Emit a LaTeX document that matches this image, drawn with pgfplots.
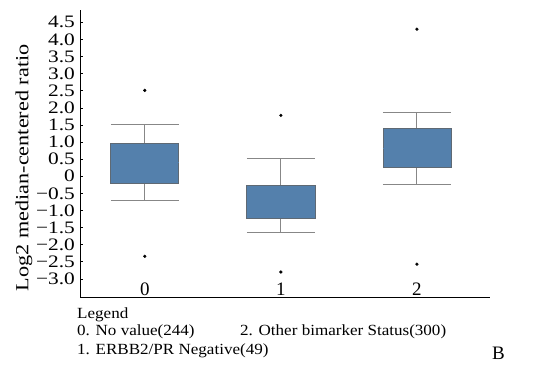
\documentclass[border=0pt]{standalone}
\usepackage{pgfplots}
\pgfplotsset{compat=1.18}
\usepgfplotslibrary{statistics}
\usepackage{fontspec}
\setmainfont{Liberation Serif}
\newfontfamily\tickfont[FakeStretch=1.22]{Liberation Serif}
\newfontfamily\labfont[FakeStretch=1.2]{Liberation Serif}
\newfontfamily\legfont[FakeStretch=1.1]{Liberation Serif}
\definecolor{boxfill}{RGB}{84,128,172}
\definecolor{boxedge}{RGB}{95,105,115}
\definecolor{whisk}{RGB}{135,135,135}
\begin{document}
\begin{tikzpicture}
\useasboundingbox (0pt,0pt) rectangle (538pt,378pt);
\begin{axis}[
  at={(80pt,81pt)}, anchor=south west,
  scale only axis, width=410pt, height=287pt,
  xmin=-0.476, xmax=2.537, ymin=-3.53, ymax=4.86,
  axis x line=bottom, axis y line=left,
  axis line style={-, black, line width=0.8pt},
  xtick={0,1,2}, xticklabels={0,1,2},
  x tick style={draw=none},
  xticklabel style={anchor=south, inner sep=0pt, yshift=1.5pt, font=\fontsize{19}{19}\selectfont},
  ytick={-3,-2.5,...,4.5},
  yticklabels={−3.0,−2.5,−2.0,−1.5,−1.0,−0.5,0,0.5,1.0,1.5,2.0,2.5,3.0,3.5,4.0,4.5},
  yticklabel style={anchor=east, inner sep=0pt, xshift=-5pt, font=\tickfont\fontsize{17.5}{17.5}\selectfont},
  tick align=inside, major tick length=3pt,
  y tick style={black, line width=0.6pt},
  ylabel={Log2 median-centered ratio},
  every axis y label/.style={at={(axis description cs:-0.137,0.45)}, anchor=center, rotate=90, font=\labfont\fontsize{18.5}{18.5}\selectfont},
  boxplot/draw direction=y,
  boxplot/box extend=0.5,
  boxplot/whisker extend=0.5,
  boxplot/every box/.style={draw=boxedge, fill=boxfill, line width=0.7pt},
  boxplot/every whisker/.style={draw=whisk, line width=0.9pt},
  boxplot/every median/.style={draw=boxfill, line width=0.5pt},
  clip=false,
]
\addplot+[black, mark=*, mark size=1.4pt, mark options={fill=black, draw=black},
  boxplot prepared={draw position=0, lower whisker=-0.72, lower quartile=-0.20,
    median=0.40, upper quartile=0.97, upper whisker=1.52}]
  table[row sep=\\, y index=0] {2.51\\ -2.34\\};
\addplot+[black, mark=*, mark size=1.4pt, mark options={fill=black, draw=black},
  boxplot prepared={draw position=1, lower whisker=-1.63, lower quartile=-1.23,
    median=-0.75, upper quartile=-0.28, upper whisker=0.52}]
  table[row sep=\\, y index=0] {1.78\\ -2.80\\};
\addplot+[black, mark=*, mark size=1.4pt, mark options={fill=black, draw=black},
  boxplot prepared={draw position=2, lower whisker=-0.25, lower quartile=0.25,
    median=0.82, upper quartile=1.40, upper whisker=1.86}]
  table[row sep=\\, y index=0] {4.30\\ -2.57\\};
\end{axis}
\begin{scope}[every node/.style={inner sep=0pt, font=\legfont\fontsize{15.5}{15.5}\selectfont}]
\node[anchor=west] at (77pt,63pt) {Legend};
\node[anchor=west] at (77pt,46.5pt) {0. No value(244)};
\node[anchor=west] at (240pt,46.5pt) {2. Other bimarker Status(300)};
\node[anchor=west] at (77pt,27pt) {1. ERBB2/PR Negative(49)};
\node[anchor=west, font=\fontsize{19}{19}\selectfont] at (492pt,25pt) {B};
\end{scope}
\end{tikzpicture}
\end{document}
